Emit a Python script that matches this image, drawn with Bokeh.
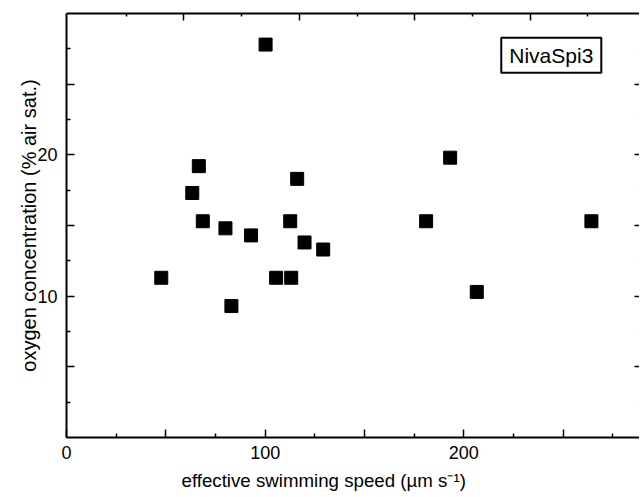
from bokeh.plotting import figure
from bokeh.models import Range1d, LinearAxis, FixedTicker, Label, Title, CustomJSTickFormatter
from bokeh.embed import file_html
from bokeh.resources import INLINE

# data
speed = [47.7, 63.3, 66.6, 68.6, 80.0, 83.0, 92.9, 100.2, 105.5, 112.6,
         113.1, 116.1, 119.8, 129.2, 181.0, 193.1, 206.5, 264.2]
oxygen = [11.3, 17.3, 19.2, 15.3, 14.8, 9.3, 14.3, 27.8, 11.3, 15.3,
          11.3, 18.3, 13.8, 13.3, 15.3, 19.8, 10.3, 15.3]

x_major = [0, 50, 100, 150, 200, 250]
x_minor = [25, 75, 125, 175, 225, 275]
x_tick_labels = {0: "0", 50: "", 100: "100", 150: "", 200: "200", 250: ""}
y_major = [5, 10, 15, 20, 25]
y_minor = [2.5, 7.5, 12.5, 17.5, 22.5, 27.5]
y_tick_labels = {5: "", 10: "10", 15: "", 20: "20", 25: ""}
top_major = [50, 100, 150, 200]
top_minor = [25, 75, 125, 175, 225]

FONT = "Liberation Sans"

p = figure(frame_width=573, frame_height=424,
           x_range=Range1d(0, 288.4), y_range=Range1d(0, 30),
           output_backend="svg", toolbar_location=None,
           min_border_left=66, min_border_right=0, min_border_top=13, min_border_bottom=20,
           x_axis_location=None, y_axis_location=None)
p.outline_line_color = None
p.xgrid.visible = False
p.ygrid.visible = False
p.background_fill_color = "white"
p.border_fill_color = "white"

p.extra_x_ranges = {"top": Range1d(-0.87, 247.4)}

empty = CustomJSTickFormatter(code="return ''")

xb = LinearAxis(ticker=FixedTicker(ticks=x_major, minor_ticks=x_minor),
                major_label_overrides=x_tick_labels)
yl = LinearAxis(ticker=FixedTicker(ticks=y_major, minor_ticks=y_minor),
                major_label_overrides=y_tick_labels,
                axis_label="oxygen concentration (% air sat.)")
xt = LinearAxis(x_range_name="top", ticker=FixedTicker(ticks=top_major, minor_ticks=top_minor),
                formatter=empty)
yr = LinearAxis(ticker=FixedTicker(ticks=y_major, minor_ticks=y_minor), formatter=empty)

for ax in (xb, yl, xt, yr):
    ax.axis_line_color = "black"
    ax.axis_line_width = 2
    ax.major_tick_line_color = "black"
    ax.major_tick_line_width = 1.5
    ax.minor_tick_line_color = "black"
    ax.minor_tick_line_width = 1.5
    ax.major_tick_in = 8
    ax.major_tick_out = 0
    ax.minor_tick_in = 4
    ax.minor_tick_out = 0
    ax.major_label_text_font = FONT
    ax.major_label_text_font_size = "18px"
    ax.major_label_text_color = "black"
    ax.axis_label_text_font = FONT
    ax.axis_label_text_font_style = "normal"
    ax.axis_label_text_color = "black"

yl.axis_label_text_font_size = "20px"
xb.major_label_standoff = 8
yl.major_label_standoff = 9
yl.axis_label_standoff = -6

for ax in (xt, yr):
    ax.major_label_standoff = 0
    ax.major_label_text_font_size = "0px"
xt.major_tick_in = 7
xt.minor_tick_in = 3
yr.axis_line_color = None
yr.major_tick_in = 5
yr.minor_tick_in = 1
yr.minor_tick_line_color = "#dddddd"

p.add_layout(xb, "below")
p.add_layout(yl, "left")
p.add_layout(xt, "above")
p.add_layout(yr, "right")

# x-axis title, placed off-centre like the reference
p.add_layout(Title(text="effective swimming speed (µm s⁻¹)", align="left", offset=115,
                   standoff=12, text_font=FONT, text_font_size="18.7px",
                   text_font_style="normal", text_color="black"), "below")

p.scatter(speed, oxygen, marker="square", size=13, fill_color="black", line_color="black")

p.add_layout(Label(x=244.0, y=27.05, text="NivaSpi3", text_align="center", text_baseline="middle",
                   text_font=FONT, text_font_size="21px", text_color="black",
                   border_line_color="black", border_line_width=2,
                   background_fill_color="white", padding=(8, 6)))

open("out.html", "w").write(file_html(p, INLINE))
